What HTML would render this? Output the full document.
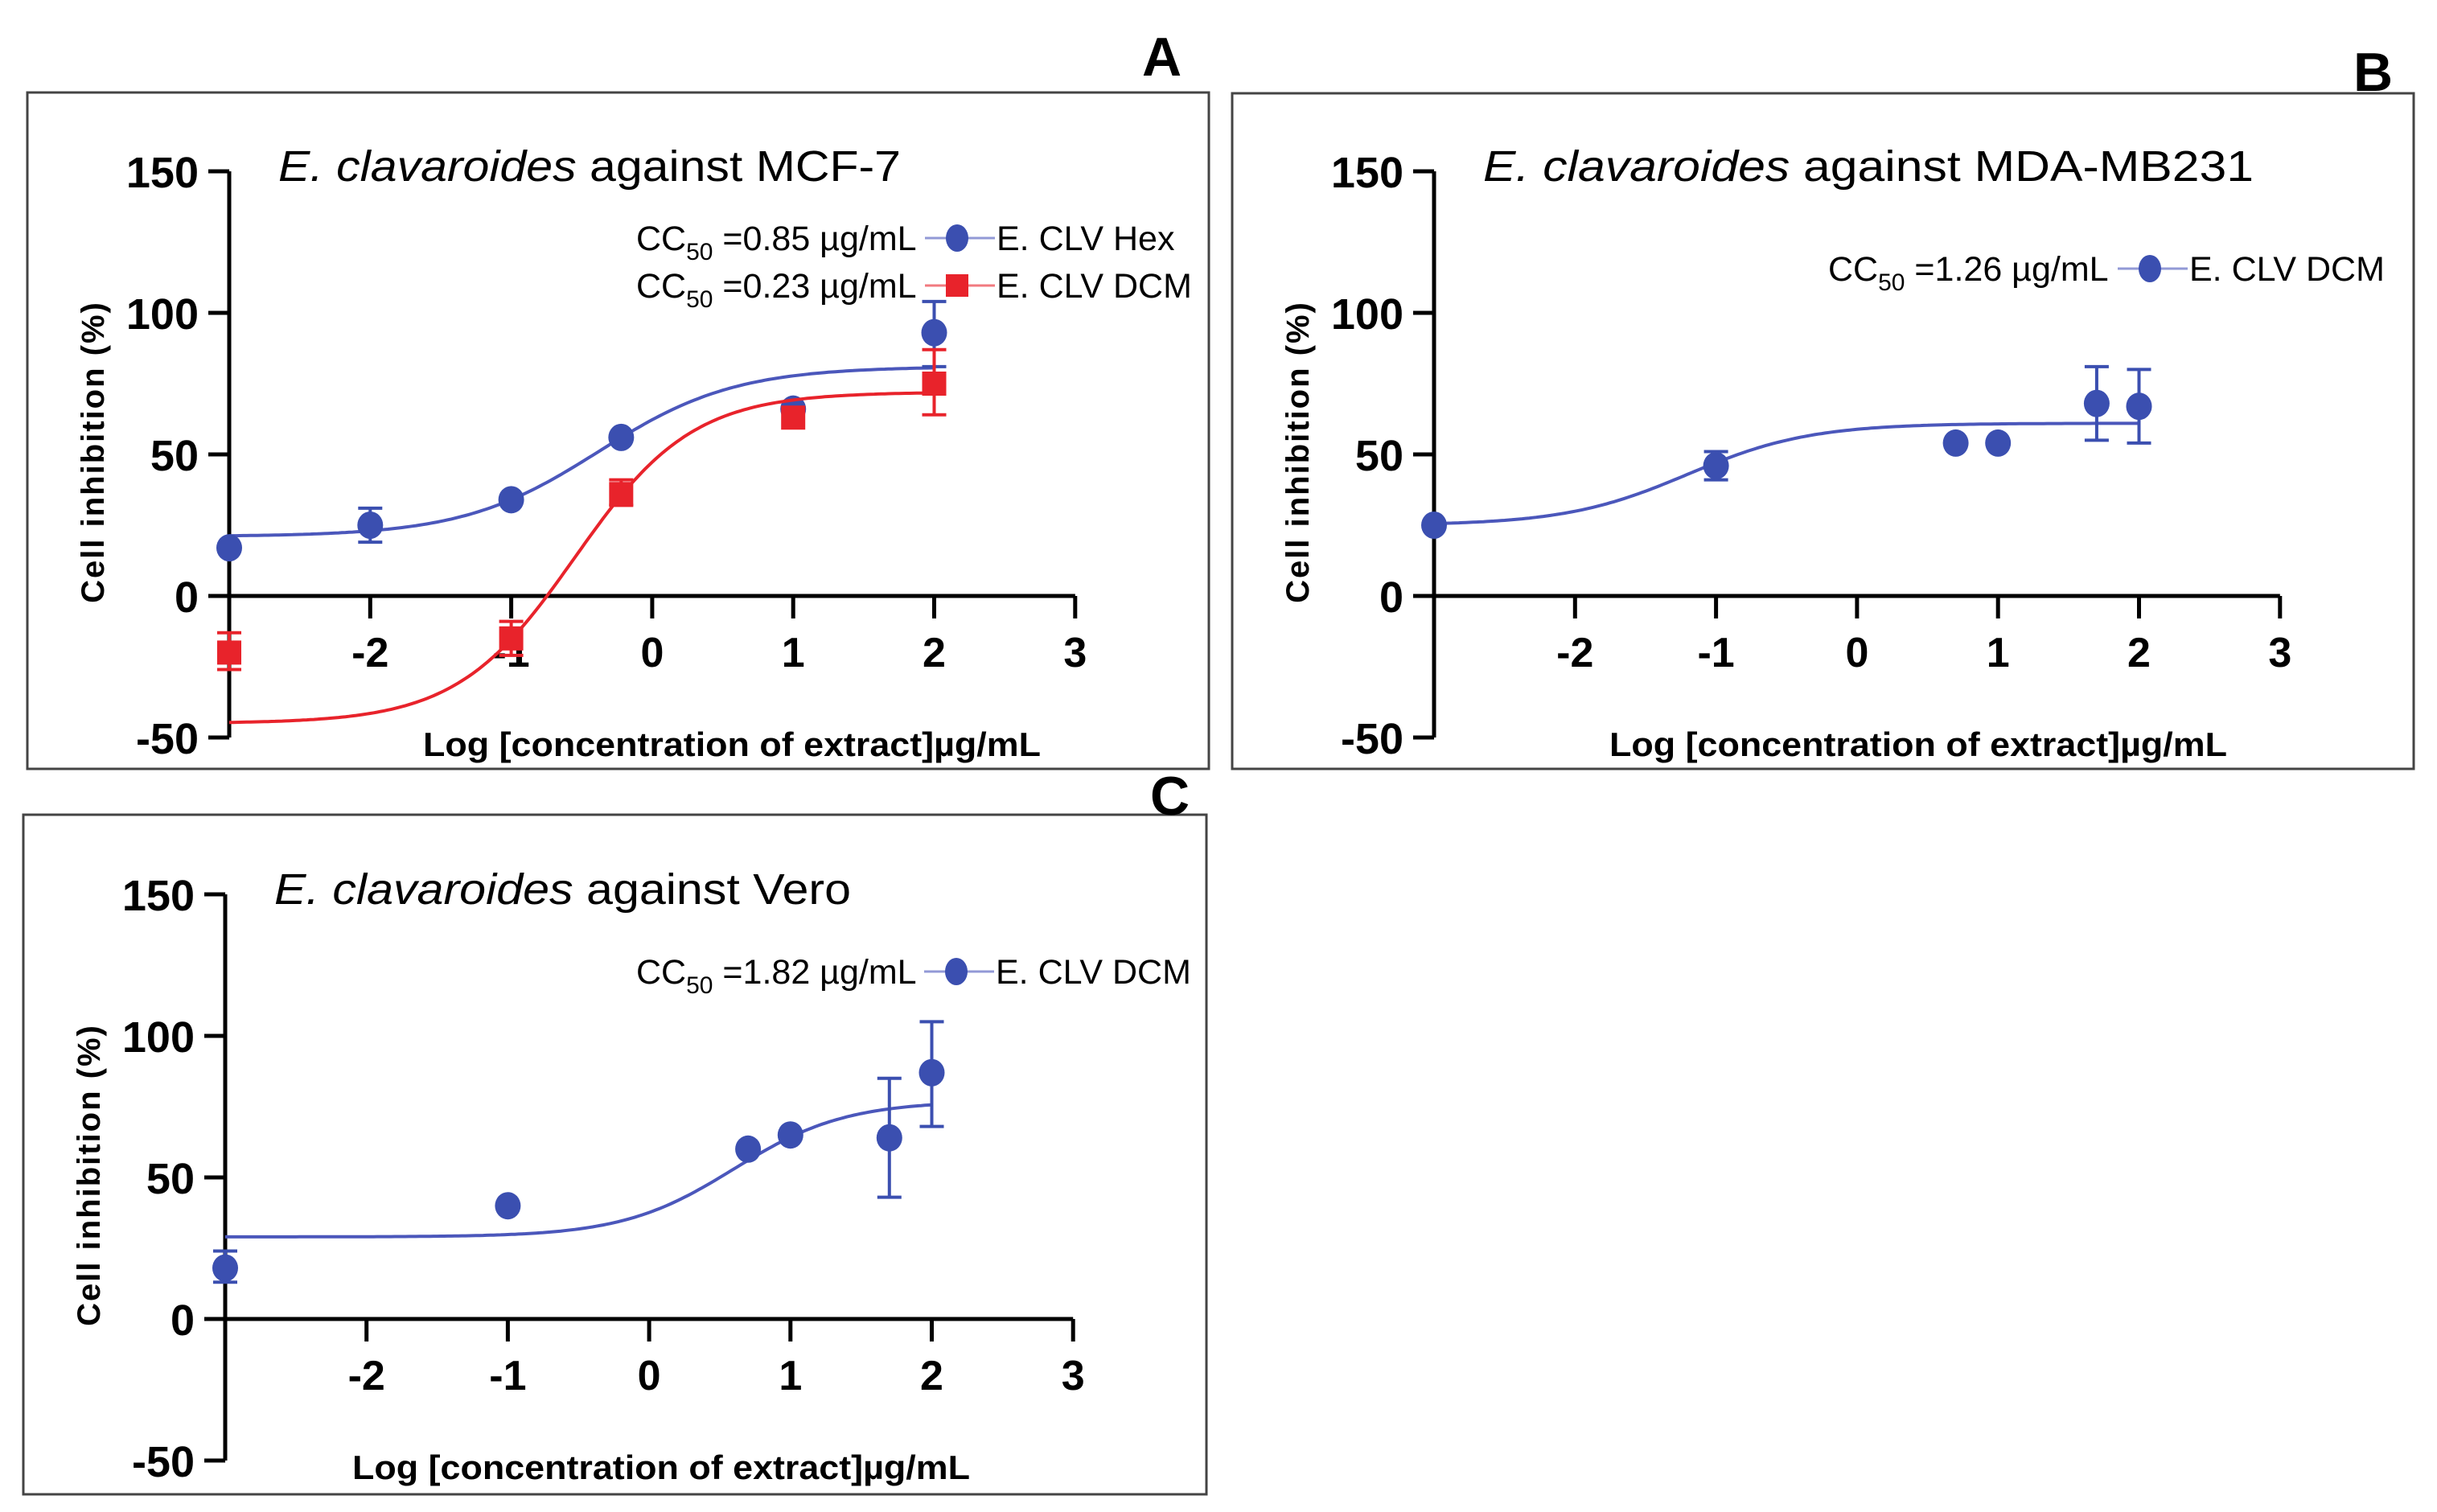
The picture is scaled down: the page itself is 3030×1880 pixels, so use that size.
<!DOCTYPE html>
<html><head><meta charset="utf-8"><style>
html,body{margin:0;padding:0;background:#fff;}
svg{display:block;font-family:"Liberation Sans",Arial,sans-serif;}
</style></head><body>
<svg id="fig" width="3030" height="1880" viewBox="0 0 3030 1880" xmlns="http://www.w3.org/2000/svg"></svg>
<script>
// ---- data ----
const yTicks = [150, 100, 50, 0, -50];
const xTicks = [-2, -1, 0, 1, 2, 3];
// Panel A (MCF-7)
const aHexX = [-3, -2, -1, -0.22, 1, 2];
const aHexY = [17, 25, 34, 56, 66, 93];
const aHexLo = [null, 19, null, null, null, 81];
const aHexHi = [null, 31, null, null, null, 104];
const aHexFit = [21, 81, -0.38, 0.9]; // bottom, top, logEC50, hill
const aDcmX = [-3, -1, -0.22, 1, 2];
const aDcmY = [-20, -15, 36, 63, 75];
const aDcmLo = [-26, -21, 32, null, 64];
const aDcmHi = [-13, -9, 41, null, 87];
const aDcmFit = [-45, 72, -0.55, 1.04];
// Panel B (MDA-MB231)
const bX = [-3, -1, 0.7, 1, 1.7, 2];
const bY = [25, 46, 54, 54, 68, 67];
const bLo = [null, 41, null, null, 55, 54];
const bHi = [null, 51, null, null, 81, 80];
const bFit = [25, 61, -1.2, 1.0];
// Panel C (Vero)
const cX = [-3, -1, 0.7, 1, 1.7, 2];
const cY = [18, 40, 60, 65, 64, 87];
const cLo = [13, null, null, null, 43, 68];
const cHi = [24, null, null, null, 85, 105];
const cFit = [29, 77, 0.6, 1.1];

const NS = "http://www.w3.org/2000/svg";
const svg = document.getElementById('fig');
const BLUE = "#3b4fb0", BLUEL = "#4b57bb", RED = "#e8232b";
function mk(tag, attrs, parent) {
  const e = document.createElementNS(NS, tag);
  for (const k in attrs) e.setAttribute(k, attrs[k]);
  (parent || svg).appendChild(e);
  return e;
}
function hill(p, x) { return p[0] + (p[1] - p[0]) / (1 + Math.pow(10, (p[2] - x) * p[3])); }

function panel(cfg) {
  const g = mk('g', {});
  
  
  const ox = cfg.ox, y0 = cfg.y0, xp = cfg.xp, yp = 176 / 50;
  const X = v => ox + (v + 3) * xp;
  const Y = v => y0 - v * yp;
  const fr = mk('rect', {x: cfg.frame[0], y: cfg.frame[1], width: cfg.frame[2] - cfg.frame[0], height: cfg.frame[3] - cfg.frame[1], fill: 'none', stroke: '#444', 'stroke-width': 3}, g);
  
  
  const lt = mk('text', {x: cfg.letter[0], y: cfg.letter[1], 'font-size': 68, 'font-weight': 'bold'}, g);
  lt.textContent = cfg.letterText;
  
  
  // axes
  const ya = mk('line', {x1: X(-3), y1: Y(150), x2: X(-3), y2: Y(-50), stroke: '#000', 'stroke-width': 5}, g);
  
  
  const xa = mk('line', {x1: X(-3), y1: Y(0), x2: X(3), y2: Y(0), stroke: '#000', 'stroke-width': 5}, g);
  
  
  yTicks.forEach(t => {
    mk('line', {x1: X(-3) - 26, y1: Y(t), x2: X(-3), y2: Y(t), stroke: '#000', 'stroke-width': 5}, g);
    const tl = mk('text', {x: X(-3) - 38, y: Y(t) + 20, 'font-size': 54, 'font-weight': 'bold', 'text-anchor': 'end'}, g);
    tl.textContent = t;
    
    
  });
  xTicks.forEach(t => {
    mk('line', {x1: X(t), y1: Y(0), x2: X(t), y2: Y(0) + 28, stroke: '#000', 'stroke-width': 5}, g);
    const tl = mk('text', {x: X(t), y: Y(0) + 88, 'font-size': 52, 'font-weight': 'bold', 'text-anchor': 'middle'}, g);
    tl.textContent = t;
    
    
  });
  // title
  const ti = mk('text', {x: ox + 61, y: y0 - 516, 'font-size': 54, textLength: cfg.titleLen, lengthAdjust: 'spacingAndGlyphs'}, g);
  ti.innerHTML = '<tspan font-style="italic">E. clavaroides</tspan> against ' + cfg.cell;
  
  
  // axis titles
  const xt = mk('text', {x: ox + cfg.xlab, y: y0 + 199, 'font-size': 42, 'font-weight': 'bold', textLength: 768, lengthAdjust: 'spacingAndGlyphs'}, g);
  xt.textContent = 'Log [concentration of extract]µg/mL';
  
  
  const yt = mk('text', {x: 0, y: 0, 'font-size': 40, 'font-weight': 'bold', 'text-anchor': 'middle', transform: `translate(${ox - 156},${y0 - 179}) rotate(-90)`, 'letter-spacing': 2}, g);
  yt.textContent = 'Cell inhibition (%)';
  
  
  // series
  cfg.series.forEach((s, si) => {
    let d = '';
    for (let i = 0; i <= 200; i++) {
      const xv = -3 + 5 * i / 200;
      d += (i ? 'L' : 'M') + X(xv).toFixed(1) + ',' + Y(hill(s.fit, xv)).toFixed(1);
    }
    const c = mk('path', {d: d, fill: 'none', stroke: s.line, 'stroke-width': 4}, g);
    
    
    s.x.forEach((xv, i) => {
      if (s.lo[i] !== null) {
        const eb = mk('path', {d: `M${X(xv)},${Y(s.lo[i])}V${Y(s.hi[i])}M${X(xv) - 15},${Y(s.lo[i])}h30M${X(xv) - 15},${Y(s.hi[i])}h30`, stroke: s.color, 'stroke-width': 4, fill: 'none'}, g);
        
        
      }
      let m;
      if (s.shape === 'sq') m = mk('rect', {x: X(xv) - 15, y: Y(s.y[i]) - 15, width: 30, height: 30, fill: s.color}, g);
      else m = mk('ellipse', {cx: X(xv), cy: Y(s.y[i]), rx: 16, ry: 17, fill: s.color}, g);
      
      
    });
    // legend
    const ly = y0 - s.leg[0];
    const lg = mk('g', {}, g);
    
    
    const lt1 = mk('text', {x: ox + s.leg[1], y: ly, 'font-size': 43}, lg);
    lt1.innerHTML = 'CC<tspan font-size="30" dy="12">50</tspan><tspan dy="-12"> =' + s.cc + '</tspan>';
    mk('line', {x1: ox + s.leg[2], y1: ly - 15, x2: ox + s.leg[2] + 87, y2: ly - 15, stroke: s.line, 'stroke-width': 3, opacity: 0.6}, lg);
    if (s.shape === 'sq') mk('rect', {x: ox + s.leg[2] + 40 - 14, y: ly - 29, width: 28, height: 28, fill: s.color}, lg);
    else mk('ellipse', {cx: ox + s.leg[2] + 40, cy: ly - 15, rx: 14, ry: 17, fill: s.color}, lg);
    const lt2 = mk('text', {x: ox + s.leg[2] + 89, y: ly, 'font-size': 43}, lg);
    lt2.textContent = s.label;
  });
}

panel({name: 'panel-a-mcf7', ox: 285, y0: 741, xp: 175.3, frame: [34, 115, 1503, 956], letter: [1420, 94], letterText: 'A',
  cell: 'MCF-7', titleLen: 774, xlab: 241,
  series: [
    {id: 'hex', x: aHexX, y: aHexY, lo: aHexLo, hi: aHexHi, fit: aHexFit, color: BLUE, line: BLUEL, shape: 'c', leg: [430, 506, 865], cc: '0.85 µg/mL', label: 'E. CLV Hex'},
    {id: 'dcm', x: aDcmX, y: aDcmY, lo: aDcmLo, hi: aDcmHi, fit: aDcmFit, color: RED, line: RED, shape: 'sq', leg: [371, 506, 865], cc: '0.23 µg/mL', label: 'E. CLV DCM'}
  ]});
panel({name: 'panel-b-mda-mb231', ox: 1783, y0: 741, xp: 175.3, frame: [1532, 116, 3001, 956], letter: [2926, 113], letterText: 'B',
  cell: 'MDA-MB231', titleLen: 958, xlab: 218,
  series: [
    {id: 'dcm', x: bX, y: bY, lo: bLo, hi: bHi, fit: bFit, color: BLUE, line: BLUEL, shape: 'c', leg: [392, 490, 850], cc: '1.26 µg/mL', label: 'E. CLV DCM'}
  ]});
panel({name: 'panel-c-vero', ox: 280, y0: 1640, xp: 175.7, frame: [29, 1013, 1500, 1858], letter: [1430, 1013], letterText: 'C',
  cell: 'Vero', titleLen: 717, xlab: 158,
  series: [
    {id: 'dcm', x: cX, y: cY, lo: cLo, hi: cHi, fit: cFit, color: BLUE, line: BLUEL, shape: 'c', leg: [417, 511, 869], cc: '1.82 µg/mL', label: 'E. CLV DCM'}
  ]});
</script>
</body></html>
